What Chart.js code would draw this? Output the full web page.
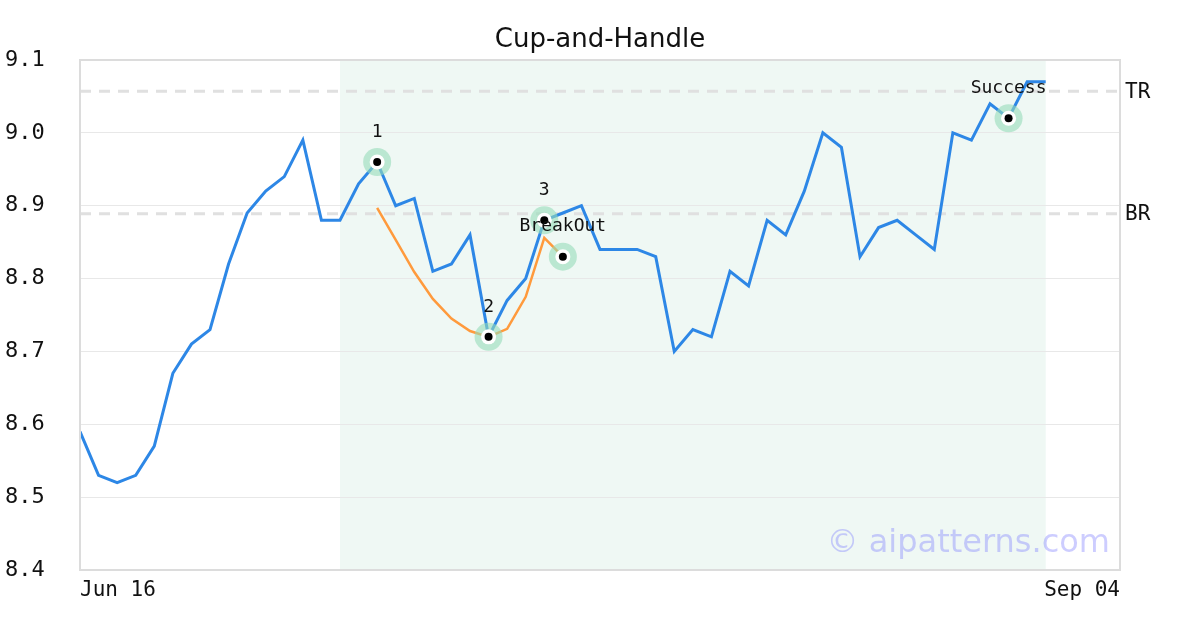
<!DOCTYPE html>
<html>
<head>
<meta charset="utf-8">
<script src="https://cdn.jsdelivr.net/npm/chart.js@4"></script>
<style>
  html, body { margin: 0; padding: 0; background: #ffffff; }
  #wrap { width: 1200px; height: 630px; }
</style>
</head>
<body>
<div id="wrap"><canvas id="c" width="1200" height="630"></canvas></div>
<script>
// ---- data ----
const chartTitle = 'Cup-and-Handle';
const tickLabels = ['Jun 16', 'Sep 04'];     // first / last date on the axis
const axisLastIndex = 56;                      // index of the last axis slot (Sep 04)
const closePrices = [
  8.59, 8.53, 8.52, 8.53, 8.57, 8.67, 8.71, 8.73, 8.82, 8.89,
  8.92, 8.94, 8.99, 8.88, 8.88, 8.93, 8.96, 8.90, 8.91, 8.81,
  8.82, 8.86, 8.72, 8.77, 8.80, 8.88, 8.89, 8.90, 8.84, 8.84,
  8.84, 8.83, 8.70, 8.73, 8.72, 8.81, 8.79, 8.88, 8.86, 8.92,
  9.00, 8.98, 8.83, 8.87, 8.88, 8.86, 8.84, 9.00, 8.99, 9.04,
  9.02, 9.07, 9.07
];
const cupStartIndex = 16;
const cupCurve = [8.897, 8.853, 8.809, 8.772, 8.745, 8.728, 8.720, 8.731, 8.775, 8.856, 8.830];
const markerIndex  = [16, 22, 25, 26, 50];
const markerValue  = [8.96, 8.72, 8.88, 8.83, 9.02];
const markerLabel  = ['1', '2', '3', 'BreakOut', 'Success'];
const levelNames   = ['TR', 'BR'];
const levelValues  = [9.057, 8.889];
const shadeRange   = [14, 52];
const yTickMin = 8.4, yTickMax = 9.1, yTickStep = 0.1;
const watermark = '\u00A9 aipatterns.com';

// ---- build datasets ----
const pricePts  = closePrices.map((v, i) => ({ x: i, y: v }));
const cupPts    = cupCurve.map((v, i) => ({ x: cupStartIndex + i, y: v }));
const markerPts = markerIndex.map((ix, i) => ({ x: ix, y: markerValue[i] }));

const MONO = "'DejaVu Sans Mono', 'Liberation Mono', monospace";
const SANS = "'DejaVu Sans', 'Noto Sans', sans-serif";

const decorPlugin = {
  id: 'decor',
  beforeDraw(chart) {
    const { ctx, chartArea: a, scales: { x, y } } = chart;
    ctx.save();
    ctx.fillStyle = '#eff8f4';
    const x0 = x.getPixelForValue(shadeRange[0]);
    const x1 = x.getPixelForValue(shadeRange[1]);
    ctx.fillRect(x0, a.top, x1 - x0, a.bottom - a.top);
    // title centred on the canvas
    ctx.fillStyle = '#111111';
    ctx.font = '26px ' + SANS;
    ctx.textAlign = 'center';
    ctx.textBaseline = 'middle';
    ctx.fillText(chartTitle, chart.width / 2, 40);
    ctx.restore();
  },
  beforeDatasetsDraw(chart) {
    const { ctx, chartArea: a, scales: { y } } = chart;
    ctx.save();
    ctx.strokeStyle = '#e0e0e0';
    ctx.lineWidth = 3;
    ctx.setLineDash([11, 8]);
    levelValues.forEach(v => {
      const py = y.getPixelForValue(v);
      ctx.beginPath();
      ctx.moveTo(a.left, py);
      ctx.lineTo(a.right, py);
      ctx.stroke();
    });
    ctx.restore();
  },
  afterDatasetsDraw(chart) {
    const { ctx, chartArea: a, scales: { x, y } } = chart;
    ctx.save();
    // marker labels
    ctx.fillStyle = '#111111';
    ctx.font = '18px ' + MONO;
    ctx.textAlign = 'center';
    ctx.textBaseline = 'middle';
    markerIndex.forEach((ix, i) => {
      const px = x.getPixelForValue(ix);
      const py = y.getPixelForValue(markerValue[i]) - 30;
      ctx.fillText(markerLabel[i], px, py);
    });
    // level labels
    ctx.font = '21px ' + MONO;
    ctx.textAlign = 'left';
    levelValues.forEach((v, i) => {
      ctx.fillText(levelNames[i], a.right + 5, y.getPixelForValue(v) + 1);
    });
    // watermark
    ctx.font = '32px ' + SANS;
    ctx.fillStyle = 'rgba(130,130,255,0.4)';
    ctx.textAlign = 'right';
    ctx.fillText(watermark, a.right - 10, a.bottom - 26);
    // frame
    ctx.strokeStyle = '#dcdcdc';
    ctx.lineWidth = 2;
    ctx.setLineDash([]);
    ctx.strokeRect(a.left, a.top, a.right - a.left, a.bottom - a.top);
    ctx.restore();
  }
};

new Chart(document.getElementById('c'), {
  type: 'line',
  data: {
    datasets: [
      { data: markerPts, showLine: false, pointRadius: 4, pointBackgroundColor: '#000000', pointBorderWidth: 0, order: 0 },
      { data: markerPts, showLine: false, pointRadius: 7.5, pointBackgroundColor: '#ffffff', pointBorderWidth: 0, order: 1 },
      { data: markerPts, showLine: false, pointRadius: 14, pointBackgroundColor: 'rgba(150,220,185,0.6)', pointBorderWidth: 0, order: 2 },
      { data: cupPts, borderColor: '#ff9a3c', borderWidth: 2.5, pointRadius: 0, tension: 0, order: 3 },
      { data: pricePts, borderColor: '#2d87e6', borderWidth: 3, pointRadius: 0, tension: 0, order: 4 }
    ]
  },
  options: {
    responsive: false,
    animation: false,
    devicePixelRatio: 1,
    events: [],
    layout: { padding: { left: 5, right: 80, top: 60, bottom: 10 } },
    plugins: {
      legend: { display: false },
      tooltip: { enabled: false },
      title: { display: false }
    },
    scales: {
      x: {
        type: 'linear',
        min: 0,
        max: axisLastIndex,
        grid: { display: false },
        border: { display: false },
        afterBuildTicks(scale) { scale.ticks = [{ value: 0 }, { value: axisLastIndex }]; },
        afterFit(scale) { scale.height = 50; },
        ticks: {
          align: 'inner',
          autoSkip: false,
          maxRotation: 0,
          padding: 0,
          color: '#111111',
          font: { family: MONO, size: 21 },
          callback: (v) => v === 0 ? tickLabels[0] : tickLabels[1]
        }
      },
      y: {
        min: yTickMin,
        max: yTickMax,
        grid: { color: '#e8e8e8', lineWidth: 1, drawTicks: false },
        border: { display: false },
        afterFit(scale) { scale.width = 75; },
        ticks: {
          stepSize: yTickStep,
          crossAlign: 'far',
          padding: 0,
          color: '#111111',
          font: { family: MONO, size: 22 },
          callback: (v) => Number(v).toFixed(1)
        }
      }
    }
  },
  plugins: [decorPlugin]
});
</script>
</body>
</html>
